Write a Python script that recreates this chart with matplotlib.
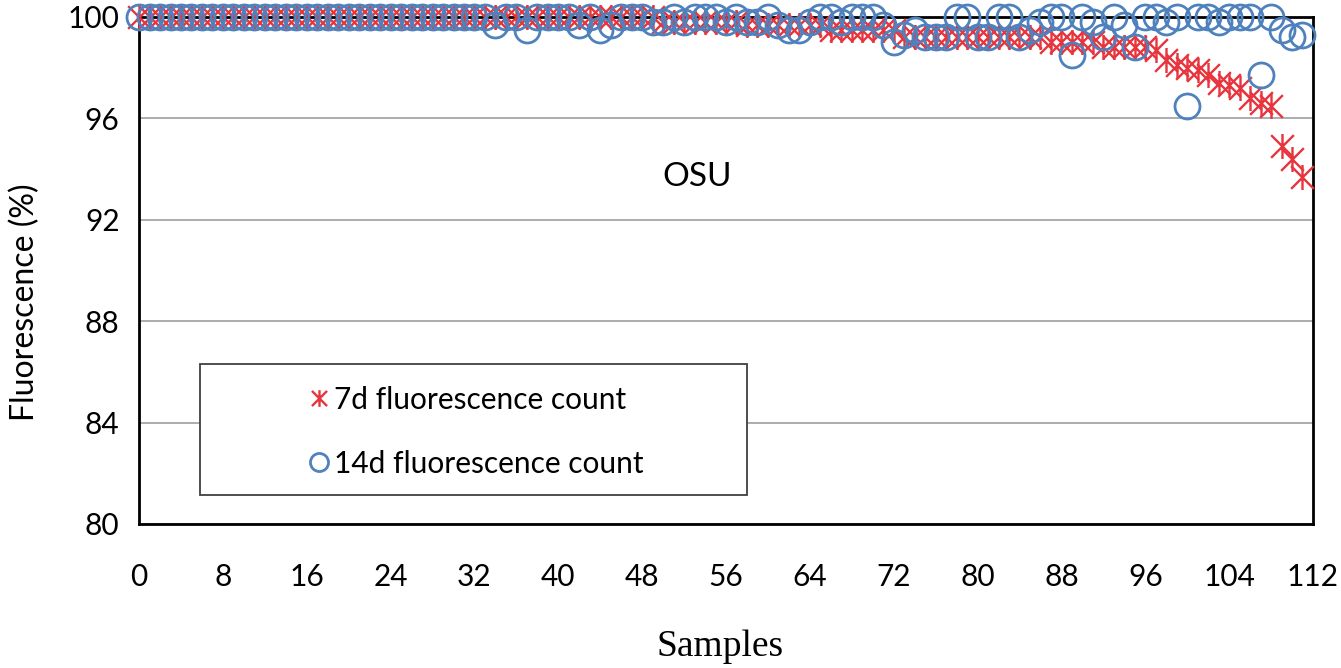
import matplotlib
matplotlib.use("Agg")
import matplotlib.pyplot as plt
import numpy as np
from matplotlib.patches import Rectangle
from matplotlib.path import Path

plt.rcParams['font.family'] = ['Lato', 'DejaVu Sans']

# sample index
samples = np.arange(0, 112)

# 7d fluorescence count (%)
count_7d = ([100.0] * 50 + [99.8] * 8 + [99.7] * 8 + [99.5] * 7 + [99.2] * 14
            + [99.0] * 5 + [98.8] * 5
            + [98.7, 98.3, 98.1, 98.0, 97.9, 97.7, 97.4, 97.3, 97.2, 96.8,
               96.6, 96.5, 94.9, 94.4, 93.7])

# 14d fluorescence count (%)
count_14d = ([100.0] * 34
             + [99.7, 100, 100, 99.5, 100, 100, 100, 100, 99.7, 100,
                99.5, 99.7, 100, 100, 100, 99.8, 99.8, 100, 99.8, 100,
                100, 100, 99.8, 100, 99.8, 99.8, 100, 99.7, 99.5, 99.5,
                99.8, 100, 100, 99.8, 100, 100, 100, 99.7, 99.0, 99.3,
                99.5, 99.2, 99.2, 99.2, 100, 100, 99.2, 99.2, 100, 100,
                99.2, 99.5, 99.8, 100, 100, 98.5, 100, 99.8, 99.2, 100,
                99.7, 98.8, 100, 100, 99.8, 100, 96.5, 100, 100, 99.8,
                100, 100, 100, 97.7, 100, 99.5, 99.2, 99.3])

yticks = [80, 84, 88, 92, 96, 100]
xticks = list(range(0, 113, 8))

# excel-like star: an x with a vertical bar through it
star = Path([(-1, -1), (1, 1), (-1, 1), (1, -1), (0, -1.1), (0, 1.1)],
            [Path.MOVETO, Path.LINETO, Path.MOVETO, Path.LINETO,
             Path.MOVETO, Path.LINETO])

fig = plt.figure(figsize=(13.41, 6.68), dpi=100)
ax = fig.add_axes([0.1037, 0.2156, 0.8754, 0.759])

ax.plot(samples, count_7d, linestyle='none', marker=star, markersize=18,
        markeredgecolor='#e8343c', markeredgewidth=1.7, clip_on=False,
        label='7d fluorescence count', zorder=3)
ax.plot(samples, count_14d, linestyle='none', marker='o', markersize=18,
        markerfacecolor='none', markeredgecolor='#4f81bd', markeredgewidth=2,
        clip_on=False, label='14d fluorescence count', zorder=4)

ax.set_xlim(0, 112)
ax.set_ylim(80, 100)
ax.set_xticks(xticks)
ax.set_yticks(yticks)
ax.tick_params(length=0, labelsize=21.5)
ax.tick_params(axis='x', pad=28)
ax.tick_params(axis='y', pad=14)
ax.grid(axis='y', color='#a6a6a6', linewidth=1.3)
ax.set_axisbelow(True)
for s in ax.spines.values():
    s.set_color('black')
    s.set_linewidth(2)

ax.text(0.475, 0.684, 'OSU', transform=ax.transAxes, fontsize=24,
        ha='center', va='center')

# legend box
ax.add_patch(Rectangle((0.052, 0.057), 0.466, 0.259, transform=ax.transAxes,
                       facecolor='white', edgecolor='#404040', linewidth=1.3,
                       zorder=5))
leg = ax.legend(loc='center', bbox_to_anchor=(0.285, 0.182), frameon=False,
                fontsize=21.5, handletextpad=0.0, labelspacing=1.2,
                handlelength=1.0)
leg.set_zorder(6)
leg.legend_handles[0].set_markersize(12)
leg.legend_handles[1].set_markersize(13)

fig.text(25 / 1341, 1 - 302 / 668, 'Fluorescence (%)', rotation=90,
         ha='center', va='center', fontsize=23)
fig.text(720 / 1341, 1 - 647 / 668, 'Samples', family='Liberation Serif',
         ha='center', va='center', fontsize=27)

fig.savefig('out.png', dpi=100)
